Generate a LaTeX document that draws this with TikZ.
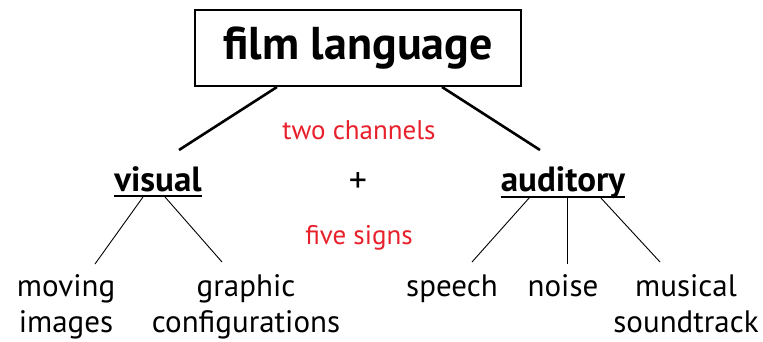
\documentclass[tikz,border=0pt]{standalone}
\usepackage{fontspec}
\setmainfont{PT Sans}
\definecolor{signred}{RGB}{232,32,44}
\begin{document}
\begin{tikzpicture}[x=1pt,y=-1pt,
  title/.style={draw,line width=2.6pt,minimum width=326pt,minimum height=76pt,inner sep=0pt,
    font=\fontsize{46}{48}\selectfont\bfseries},
  channel/.style={font=\fontsize{35}{38}\selectfont\bfseries,inner sep=0pt,anchor=base},
  sign/.style={font=\fontsize{31}{36}\selectfont,align=center,inner sep=0pt,anchor=base},
  note/.style={font=\fontsize{27}{30}\selectfont,text=signred,inner sep=0pt,anchor=base},
  rule/.style={line width=2pt},
  trunk/.style={line width=2.6pt},
  branch/.style={line width=0.9pt}]
\useasboundingbox (0,0) rectangle (763,342);
% top box
\node[title] (film) at (358,48) {film language};
% channels
\node[channel] (visual) at (158,191.7) {visual};
\node[channel] (auditory) at (563,191.7) {auditory};
\draw[rule] ([yshift=-4.5pt]visual.base west) -- ([yshift=-4.5pt]visual.base east);
\draw[rule] ([yshift=-4.8pt]auditory.base west) -- ([yshift=-4.8pt]auditory.base east);
\node[font=\fontsize{36}{40}\selectfont,inner sep=0pt,anchor=base] (plus) at (358,193) {+};
\node[note] (two) at (359,140) {two channels};
\node[note] (five) at (359,244.7) {five signs};
% signs (base anchor sits on the last line)
\node[sign] (moving) at (66,332.7) {moving\\images};
\node[sign] (graphic) at (246,332.7) {graphic\\configurations};
\node[sign] (speech) at (452,296.7) {speech};
\node[sign] (noise) at (563,296.7) {noise};
\node[sign] (musical) at (686,332.7) {musical\\soundtrack};
% connector end points
\coordinate (fl) at (277,87);
\coordinate (fr) at (442,87);
\coordinate (vt) at (179,150);
\coordinate (at) at (540,150);
\coordinate (v1) at (143,197);
\coordinate (v2) at (165,197);
\coordinate (a1) at (530,197);
\coordinate (a2) at (567,197);
\coordinate (a3) at (600,197);
\coordinate (m1) at (95,264);
\coordinate (g1) at (222,262);
\coordinate (s1) at (472,262);
\coordinate (n1) at (567,264);
\coordinate (mu1) at (660,262);
% connectors
\draw[trunk] (fl) -- (vt);
\draw[trunk] (fr) -- (at);
\draw[branch] (v1) -- (m1);
\draw[branch] (v2) -- (g1);
\draw[branch] (a1) -- (s1);
\draw[branch] (a2) -- (n1);
\draw[branch] (a3) -- (mu1);
\end{tikzpicture}
\end{document}
